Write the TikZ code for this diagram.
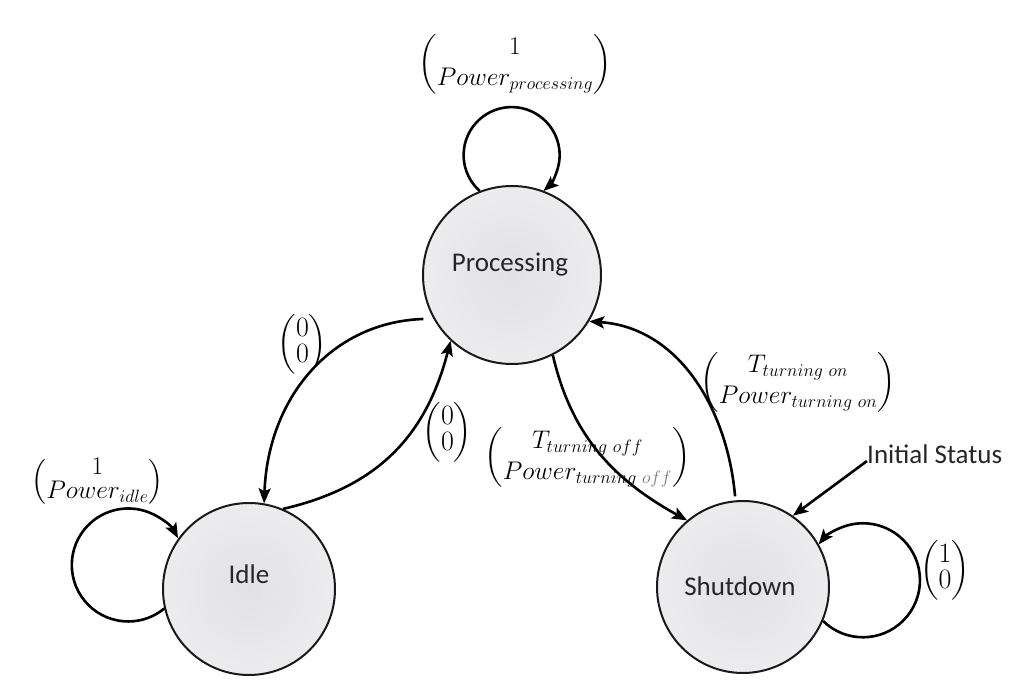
\RequirePackage{fix-cm}
\documentclass[tikz,border=0pt]{standalone}
\usepackage{amsmath}
\usepackage[no-math]{fontspec}
\setmainfont{Carlito}
\usetikzlibrary{arrows.meta}
\definecolor{stinner}{RGB}{226,226,230}
\definecolor{stouter}{RGB}{246,246,248}
\definecolor{offgray}{RGB}{120,120,120}
\pgfdeclareradialshading{stateshade}{\pgfpoint{0bp}{0bp}}{color(0bp)=(stinner); color(50bp)=(stouter)}
\tikzset{
  statenode/.style={circle, draw=black!90, line width=2pt, shade, shading=stateshade, inner sep=0pt},
  stext/.style={inner sep=0pt, font=\fontsize{27}{32}\selectfont, anchor=base, text=black!85},
  conn/.style={line width=2.6pt, -{Stealth[length=15pt,width=12pt,inset=3pt]}},
  mlabel/.style={inner sep=0pt, font=\fontsize{25.5}{31}\selectfont},
  ilabel/.style={inner sep=0pt, font=\fontsize{25.5}{22}\selectfont},
  dlabel/.style={inner sep=0pt, font=\fontsize{28}{26}\selectfont},
}
\begin{document}
\begin{tikzpicture}[x=1pt,y=1pt]
\fill[white] (0,0) rectangle (1030,699);
\useasboundingbox (0,0) rectangle (1030,699);

% states
\node[statenode, minimum size=178pt] (P) at (512,424) {};
\node[statenode, minimum size=172pt] (I) at (249,110) {};
\node[statenode, minimum size=172pt] (S) at (743,112) {};

\node[stext] (Pt) at (510,427.3) {Processing};
\node[stext] (It) at (249,115.7) {Idle};
\node[stext] (St) at (740,104) {Shutdown};
\node[stext, anchor=base west] (init) at (867,235) {Initial Status};

% self loops
\draw[conn] (P.111.6) arc[start angle=228.4, end angle=-48.4, radius=48pt];
\draw[conn] (I.193.5) arc[start angle=-50.5, end angle=-331.7, radius=56.5pt];
\draw[conn] (S.-23.1) arc[start angle=225.6, end angle=501.1, radius=57pt];

% transitions
\draw[conn, shorten <=10pt] (P.209) to[out=182, in=88, looseness=1.06] (I.80);
\draw[conn] (I.67) to[out=13, in=255.5, looseness=1.05] (P.227.6);
\draw[conn] (P.-63) to[out=-77, in=151, looseness=1] (S.130);
\draw[conn, shorten <=4pt] (S.95) to[out=95, in=-4, looseness=1] (P.-31);
\draw[conn] ([yshift=3pt]init.base west) -- (S.55);

% labels
\node[mlabel] (lp) at (515,635) {$\begin{pmatrix} 1 \\ Power_{processing} \end{pmatrix}$};
\node[ilabel] (li) at (97.5,217) {$\begin{pmatrix} 1 \\ Power_{idle} \end{pmatrix}$};
\node[dlabel] (lpi) at (302.5,355) {$\begin{pmatrix} 0 \\ 0 \end{pmatrix}$};
\node[dlabel] (lip) at (447.5,266.5) {$\begin{pmatrix} 0 \\ 0 \end{pmatrix}$};
\node[mlabel] (lps) at (587.5,241.5) {$\begin{pmatrix} T_{turning\ off} \\ Power_{turning\ \textcolor{offgray}{off}} \end{pmatrix}$};
\node[mlabel] (lsp) at (798,317) {$\begin{pmatrix} T_{turning\ on} \\ Power_{turning\ on} \end{pmatrix}$};
\node[dlabel] (lss) at (945,129) {$\begin{pmatrix} 1 \\ 0 \end{pmatrix}$};
\end{tikzpicture}
\end{document}
